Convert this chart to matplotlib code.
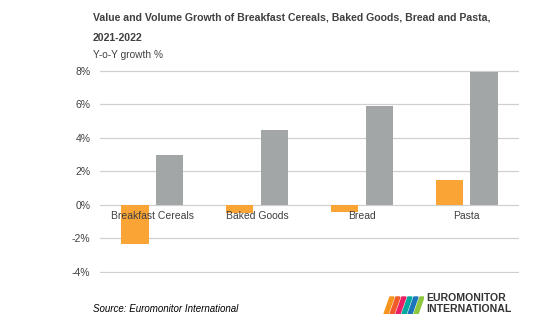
import numpy as np
import matplotlib.pyplot as plt
from matplotlib.patches import Polygon

categories = ['Breakfast Cereals', 'Baked Goods', 'Bread', 'Pasta']
value_growth = [-2.35, -0.5, -0.45, 1.5]
volume_growth = [3.0, 4.5, 5.9, 7.95]
yticks = [-4, -2, 0, 2, 4, 6, 8]

ORANGE = '#F9A435'
GRAY = '#A3A6A6'
TEXT = '#404040'

plt.rcParams['font.family'] = ['Liberation Sans', 'DejaVu Sans']

fig = plt.figure(figsize=(5.53, 3.22), dpi=100)
ax = fig.add_axes([100 / 553, 1 - 273 / 322, 419 / 553, 203 / 322])

x = np.arange(len(categories))
w = 0.26
ax.bar(x - 0.165, value_growth, w, color=ORANGE, zorder=2)
ax.bar(x + 0.165, volume_growth, w, color=GRAY, zorder=2)

ax.set_xlim(-0.5, len(categories) - 0.5)
ax.set_ylim(-4.08, 8.06)
ax.set_yticks(yticks)
ax.set_yticklabels([f'{t}%' for t in yticks], fontsize=7.5, color=TEXT)
ax.tick_params(axis='y', length=0, pad=7)
ax.set_xticks([])
ax.grid(axis='y', color='#D0D0D0', linewidth=0.9, zorder=0)
for s in ax.spines.values():
    s.set_visible(False)

# category labels sit just under the zero line
for i, c in enumerate(categories):
    ax.text(i, -0.35, c, ha='center', va='top', fontsize=7.5, color=TEXT, zorder=3)

fig.text(93 / 553, 1 - 18 / 322,
         'Value and Volume Growth of Breakfast Cereals, Baked Goods, Bread and Pasta,',
         fontsize=7.6, fontweight='bold', color=TEXT, va='center')
fig.text(93 / 553, 1 - 38 / 322, '2021-2022',
         fontsize=7.6, fontweight='bold', color=TEXT, va='center')
fig.text(93 / 553, 1 - 55 / 322, 'Y-o-Y growth %', fontsize=7.3, color=TEXT, va='center')
fig.text(93 / 553, 1 - 309 / 322, 'Source: Euromonitor International',
         fontsize=7, style='italic', color='black', va='center')

# logo
lax = fig.add_axes([382 / 553, 1 - 314 / 322, 42 / 553, 20 / 322])
lax.set_xlim(0, 42)
lax.set_ylim(0, 20)
lax.axis('off')
stripes = ['#F7941D', '#F15A29', '#E91E63', '#00A99D', '#1B75BC', '#8DC63F']
for i, col in enumerate(stripes):
    x0 = 2 + i * 6
    lax.add_patch(Polygon([[x0, 0], [x0 + 4, 0], [x0 + 10, 17], [x0 + 6, 17]], color=col))
fig.text(426 / 553, 1 - 298 / 322, 'EUROMONITOR', fontsize=7.6, fontweight='bold',
         color='#333333', va='center')
fig.text(426 / 553, 1 - 309 / 322, 'INTERNATIONAL', fontsize=7.6, fontweight='bold',
         color='#333333', va='center')

fig.savefig('out.png', dpi=100)
